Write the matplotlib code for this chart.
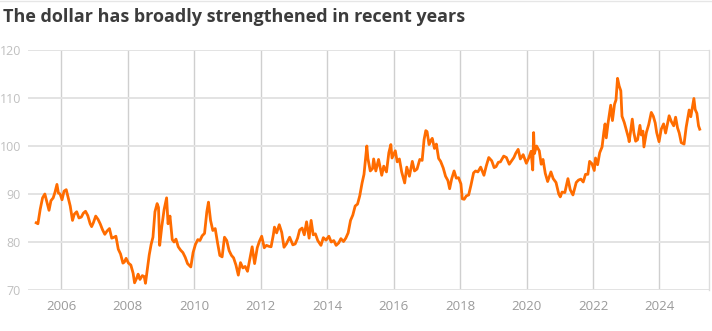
import matplotlib
matplotlib.use("Agg")
import matplotlib.pyplot as plt
import matplotlib.dates as mdates
from matplotlib.lines import Line2D
import pandas as pd

title = "The dollar has broadly strengthened in recent years"
y_ticks = [70, 80, 90, 100, 110, 120]
x_tick_years = [2006, 2008, 2010, 2012, 2014, 2016, 2018, 2020, 2022, 2024]

dates = [
    "2005-04-01", "2005-04-20", "2005-05-15", "2005-06-10", "2005-07-05", "2005-07-25", "2005-08-20", "2005-09-10", "2005-10-05", "2005-10-25", "2005-11-15", "2005-12-01", "2005-12-20",
    "2006-01-10", "2006-02-01", "2006-02-25", "2006-03-15", "2006-04-10", "2006-05-05", "2006-05-25", "2006-06-20", "2006-07-15", "2006-08-10", "2006-09-01", "2006-09-25", "2006-10-20", "2006-11-15", "2006-12-01", "2006-12-20",
    "2007-01-15", "2007-02-10", "2007-03-05", "2007-04-01", "2007-04-25", "2007-05-20", "2007-06-15", "2007-07-10", "2007-08-05", "2007-08-25", "2007-09-20", "2007-10-15", "2007-11-10", "2007-11-25", "2007-12-15",
    "2008-01-10", "2008-02-05", "2008-03-01", "2008-03-17", "2008-04-10", "2008-04-25", "2008-05-15", "2008-06-10", "2008-07-01", "2008-07-15", "2008-08-05", "2008-08-25", "2008-09-15", "2008-10-05", "2008-10-27", "2008-11-20", "2008-12-05", "2008-12-18",
    "2009-01-10", "2009-02-05", "2009-03-04", "2009-03-20", "2009-04-10", "2009-05-05", "2009-05-25", "2009-06-15", "2009-07-10", "2009-08-05", "2009-08-30", "2009-09-25", "2009-10-20", "2009-11-25", "2009-12-20",
    "2010-01-15", "2010-02-10", "2010-03-05", "2010-03-30", "2010-04-25", "2010-05-20", "2010-06-07", "2010-06-30", "2010-07-25", "2010-08-20", "2010-09-15", "2010-10-10", "2010-11-04", "2010-11-30", "2010-12-25",
    "2011-01-20", "2011-02-15", "2011-03-10", "2011-04-05", "2011-05-01", "2011-05-25", "2011-06-20", "2011-07-15", "2011-08-10", "2011-09-05", "2011-09-30", "2011-10-27", "2011-11-25", "2011-12-20",
    "2012-01-13", "2012-02-10", "2012-03-05", "2012-04-01", "2012-04-25", "2012-05-20", "2012-06-01", "2012-06-25", "2012-07-24", "2012-08-20", "2012-09-14", "2012-10-10", "2012-11-15", "2012-12-20",
    "2013-01-15", "2013-02-10", "2013-03-05", "2013-04-01", "2013-04-25", "2013-05-20", "2013-06-17", "2013-07-09", "2013-08-01", "2013-08-25", "2013-09-20", "2013-10-25", "2013-11-20", "2013-12-20",
    "2014-01-20", "2014-02-15", "2014-03-15", "2014-04-10", "2014-05-08", "2014-06-01", "2014-06-30", "2014-07-25", "2014-08-20", "2014-09-15", "2014-10-10", "2014-11-05", "2014-12-01", "2014-12-25",
    "2015-01-20", "2015-02-10", "2015-03-13", "2015-03-25", "2015-04-20", "2015-05-15", "2015-05-27", "2015-06-20", "2015-07-20", "2015-08-24", "2015-09-15", "2015-10-15", "2015-11-10", "2015-12-02", "2015-12-15",
    "2016-01-20", "2016-02-10", "2016-03-05", "2016-03-30", "2016-05-02", "2016-05-25", "2016-06-23", "2016-07-25", "2016-08-18", "2016-09-15", "2016-10-15", "2016-11-10", "2016-12-01", "2016-12-20", "2017-01-03",
    "2017-01-25", "2017-02-15", "2017-03-01", "2017-03-25", "2017-04-15", "2017-05-10", "2017-06-01", "2017-06-30", "2017-07-25", "2017-08-20", "2017-09-08", "2017-10-01", "2017-10-27", "2017-11-20", "2017-12-15",
    "2018-01-10", "2018-01-25", "2018-02-15", "2018-03-10", "2018-04-05", "2018-04-30", "2018-05-29", "2018-06-20", "2018-07-15", "2018-08-15", "2018-09-20", "2018-10-15", "2018-11-12", "2018-12-15",
    "2019-01-10", "2019-01-31", "2019-02-25", "2019-03-20", "2019-04-25", "2019-05-25", "2019-06-25", "2019-07-20", "2019-08-15", "2019-09-05", "2019-10-01", "2019-10-25", "2019-11-25", "2019-12-30",
    "2020-01-25", "2020-02-20", "2020-03-09", "2020-03-19", "2020-03-27", "2020-04-20", "2020-05-20", "2020-06-10", "2020-06-30", "2020-07-25", "2020-08-20", "2020-09-25", "2020-10-20", "2020-11-20", "2020-12-20",
    "2021-01-06", "2021-01-25", "2021-02-25", "2021-03-31", "2021-04-25", "2021-05-25", "2021-06-30", "2021-07-25", "2021-08-20", "2021-09-15", "2021-10-10", "2021-11-05", "2021-11-24", "2021-12-20",
    "2022-01-14", "2022-01-28", "2022-02-20", "2022-03-15", "2022-04-10", "2022-04-30", "2022-05-13", "2022-05-26", "2022-06-15", "2022-07-14", "2022-08-02", "2022-08-25", "2022-09-10", "2022-09-27", "2022-10-15", "2022-11-02", "2022-11-15", "2022-12-10", "2022-12-30",
    "2023-01-25", "2023-02-02", "2023-03-08", "2023-03-25", "2023-04-14", "2023-05-05", "2023-05-31", "2023-06-15", "2023-07-03", "2023-07-14", "2023-08-10", "2023-09-05", "2023-10-03", "2023-10-25", "2023-11-15", "2023-12-01", "2023-12-27",
    "2024-01-20", "2024-02-15", "2024-03-08", "2024-04-16", "2024-05-10", "2024-06-05", "2024-06-26", "2024-07-17", "2024-08-05", "2024-08-27", "2024-09-27", "2024-10-20", "2024-11-22", "2024-12-10", "2024-12-31",
    "2025-01-13", "2025-01-27", "2025-02-15", "2025-03-05", "2025-03-18",
]

dxy = [
    84.0, 83.8, 86.8, 89.2, 90.0, 88.5, 86.6, 88.6, 89.2, 90.4, 92.0, 90.2, 90.0,
    88.8, 90.6, 90.9, 89.5, 87.5, 84.5, 85.8, 86.3, 85.0, 85.2, 86.0, 86.4, 85.5, 83.8, 83.2, 84.0,
    85.4, 84.7, 83.8, 82.5, 81.6, 82.3, 82.8, 80.8, 81.0, 81.2, 78.5, 77.5, 75.6, 75.8, 76.6,
    75.6, 75.2, 73.5, 71.5, 72.5, 73.3, 72.2, 73.0, 72.8, 71.4, 74.5, 77.3, 79.5, 81.0, 86.3, 88.0, 87.2, 79.3,
    83.2, 86.8, 89.2, 83.8, 85.4, 80.5, 80.0, 80.6, 79.0, 78.3, 77.8, 76.8, 75.5, 74.8, 77.8,
    79.5, 80.5, 80.3, 81.3, 81.8, 86.3, 88.3, 84.5, 82.4, 82.8, 79.8, 77.2, 76.9, 81.0, 80.3,
    78.2, 77.2, 76.7, 75.2, 73.1, 75.7, 74.6, 74.9, 73.9, 76.5, 79.0, 75.5, 78.8, 80.2,
    81.2, 78.8, 79.3, 79.1, 79.0, 81.5, 83.1, 81.9, 83.6, 82.0, 78.9, 79.6, 81.0, 79.4,
    79.6, 80.8, 82.5, 82.9, 81.5, 84.2, 80.8, 84.5, 81.5, 81.7, 80.3, 79.3, 80.9, 80.4,
    81.2, 80.0, 80.3, 79.3, 79.8, 80.7, 80.1, 80.8, 81.9, 84.5, 85.6, 87.5, 87.9, 89.6,
    92.3, 94.1, 100.0, 97.4, 94.8, 95.3, 97.3, 94.8, 97.2, 93.9, 95.8, 94.6, 98.6, 100.3, 97.5,
    99.0, 96.7, 97.3, 94.6, 92.3, 95.6, 93.7, 96.8, 94.8, 95.2, 97.2, 97.0, 101.3, 103.2, 103.0,
    100.3, 101.2, 101.6, 99.5, 100.4, 97.4, 96.8, 95.4, 93.7, 92.8, 91.1, 93.2, 94.8, 93.3, 93.4,
    92.1, 89.0, 88.9, 89.6, 89.8, 91.8, 94.4, 94.8, 94.6, 95.6, 93.9, 95.8, 97.6, 96.9,
    95.5, 95.7, 96.6, 96.7, 97.9, 97.6, 96.2, 96.9, 97.6, 98.5, 99.3, 97.3, 98.2, 96.4,
    97.5, 98.9, 95.0, 102.8, 98.4, 100.0, 99.0, 96.2, 97.2, 94.3, 92.6, 94.6, 93.2, 92.4, 90.0,
    89.4, 90.4, 90.3, 93.2, 90.9, 89.8, 92.4, 92.9, 93.1, 92.5, 94.1, 94.1, 96.8, 96.3,
    94.9, 97.5, 96.1, 98.6, 99.8, 103.0, 104.6, 101.7, 104.8, 108.5, 105.3, 108.7, 109.6, 114.1, 112.5, 111.5, 106.2, 104.9, 103.5,
    101.7, 100.9, 105.6, 102.8, 101.0, 101.3, 104.3, 102.3, 103.1, 99.8, 102.8, 104.5, 107.0, 106.2, 104.8, 102.8, 100.9,
    103.5, 104.6, 102.7, 106.3, 105.1, 104.2, 106.0, 103.8, 102.7, 100.7, 100.4, 103.9, 107.5, 106.1, 108.5,
    109.9, 107.6, 106.8, 104.2, 103.5,
]

plt.rcParams['font.family'] = ['Open Sans', 'DejaVu Sans']

fig = plt.figure(figsize=(7.12, 3.31), dpi=100)
ax = fig.add_axes([28 / 712, 41 / 331, 681 / 712, 240 / 331])

x = pd.to_datetime(dates)
ax.plot(x, dxy, color='#ff6c00', lw=2.0, solid_joinstyle='round', zorder=3)

ax.set_ylim(70, 120)
ax.set_xlim(pd.Timestamp('2005-01-01'), pd.Timestamp('2025-06-28'))
ax.set_yticks(y_ticks)
ax.set_xticks([pd.Timestamp(f"{yr}-01-01") for yr in x_tick_years])
ax.xaxis.set_major_formatter(mdates.DateFormatter('%Y'))

ax.grid(axis='y', color='#e3e3e3', lw=1.4, zorder=1)
ax.grid(axis='x', color='#cfcfcf', lw=1.0, zorder=1)
for side in ['top', 'left', 'bottom']:
    ax.spines[side].set_visible(False)
ax.spines['right'].set_color('#dddddd')
ax.spines['right'].set_linewidth(1.0)

ax.tick_params(axis='both', length=0)
ax.tick_params(axis='x', colors='#9a9a9a', pad=7, labelsize=9.5)
ax.tick_params(axis='y', colors='#c0c0c0', pad=5, labelsize=9)

fig.add_artist(Line2D([0, 1], [0.998, 0.998], color='#e6e6e6', lw=1.0))

fig.text(3 / 712, 1 - 17 / 331, title, fontsize=13, fontweight='bold',
         color='#3c3c3c', va='center', ha='left')

fig.savefig('out.png', dpi=100, facecolor='white')
